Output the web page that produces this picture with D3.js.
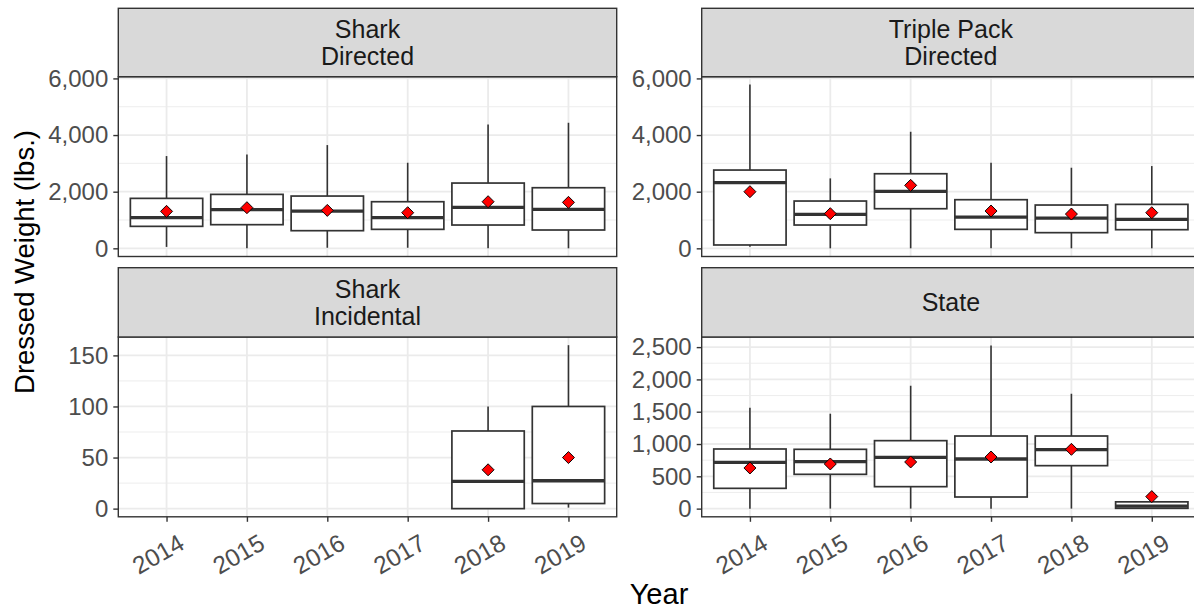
<!DOCTYPE html>
<html><head><meta charset="utf-8">
<script src="https://cdn.jsdelivr.net/npm/d3@7"></script>
<style>
body{margin:0;background:#fff;}
text{font-family:"Liberation Sans", Arial, Helvetica, sans-serif;}
</style>
</head><body>
<svg id="chart" width="1194" height="610"></svg>
<script>
// ---------- data ----------
const years = ["2014","2015","2016","2017","2018","2019"];
const panelTitles = [["Shark","Directed"],["Triple Pack","Directed"],["Shark","Incidental"],["State"]];

// Shark Directed
const sdLow  = [50, 0, 20, 20, 0, 0];
const sdQ1   = [776, 835, 623, 670, 823, 647];
const sdMed  = [1082, 1364, 1317, 1082, 1446, 1376];
const sdQ3   = [1764, 1905, 1846, 1646, 2305, 2140];
const sdHigh = [3258, 3316, 3646, 3022, 4375, 4434];
const sdMean = [1305, 1435, 1340, 1258, 1646, 1623];

// Triple Pack Directed
const tpLow  = [60, 0, 0, 0, 0, 0];
const tpQ1   = [118, 823, 1399, 670, 553, 658];
const tpMed  = [2317, 1200, 2011, 1105, 1070, 1023];
const tpQ3   = [2764, 1670, 2634, 1717, 1529, 1552];
const tpHigh = [5786, 2470, 4116, 3022, 2846, 2905];
const tpMean = [2000, 1223, 2223, 1317, 1211, 1258];

// Shark Incidental (only 2018, 2019)
const siLow  = [null, null, null, null, 0, 1];
const siQ1   = [null, null, null, null, 0, 5];
const siMed  = [null, null, null, null, 26.6, 27.3];
const siQ3   = [null, null, null, null, 76, 100];
const siHigh = [null, null, null, null, 100, 160];
const siMean = [null, null, null, null, 38, 50];

// State
const stLow  = [0, 0, 0, 0, 0, 0];
const stQ1   = [314, 531, 340, 180, 665, 5];
const stMed  = [717, 727, 794, 768, 912, 40];
const stQ3   = [923, 918, 1052, 1124, 1124, 105];
const stHigh = [1562, 1469, 1902, 2526, 1778, 110];
const stMean = [629, 691, 722, 799, 918, 186];

// y data ranges (before 5% expansion) and breaks
const yRanges = [[0, 5772], [0, 5772], [0, 160], [0, 2530]];
const yMajor = [[0,2000,4000,6000],[0,2000,4000,6000],[0,50,100,150],[0,500,1000,1500,2000,2500]];
const yMinor = [[1000,3000,5000],[1000,3000,5000],[25,75,125],[250,750,1250,1750,2250]];

const series = [
  [sdLow, sdQ1, sdMed, sdQ3, sdHigh, sdMean],
  [tpLow, tpQ1, tpMed, tpQ3, tpHigh, tpMean],
  [siLow, siQ1, siMed, siQ3, siHigh, siMean],
  [stLow, stQ1, stMed, stQ3, stHigh, stMean]
];

// ---------- layout ----------
const svg = d3.select("#chart");
svg.append("rect").attr("width",1194).attr("height",610).attr("fill","#fff");
const colX = [[118.3, 616.7], [701.7, 1200]];
const stripY = [[8.3, 76.7], [267.7, 337]];
const panelY = [[76.7, 256.5], [337, 516.8]];
const fmt = d3.format(",");

series.forEach((s, pi) => {
  const r = Math.floor(pi / 2), c = pi % 2;
  const [x0, x1] = colX[c];
  const [py0, py1] = panelY[r];
  const [sy0, sy1] = stripY[r];
  const [lo, hi] = yRanges[pi];
  const ex = 0.05 * (hi - lo);
  const y = d3.scaleLinear().domain([lo - ex, hi + ex]).range([py1, py0]);
  const x = d3.scalePoint().domain(years).range([x0, x1]).padding(0.6);
  const bw = x.step() * 0.9;
  const g = svg.append("g");

  g.append("rect").attr("x", x0).attr("y", py0).attr("width", x1 - x0).attr("height", py1 - py0).attr("fill", "#fff");
  g.selectAll(".ymin").data(yMinor[pi]).join("line")
    .attr("x1", x0).attr("x2", x1).attr("y1", d => y(d)).attr("y2", d => y(d))
    .attr("stroke", "#EBEBEB").attr("stroke-width", 0.9);
  g.selectAll(".ymaj").data(yMajor[pi]).join("line")
    .attr("x1", x0).attr("x2", x1).attr("y1", d => y(d)).attr("y2", d => y(d))
    .attr("stroke", "#EBEBEB").attr("stroke-width", 1.8);
  g.selectAll(".xmaj").data(years).join("line")
    .attr("x1", d => x(d)).attr("x2", d => x(d)).attr("y1", py0).attr("y2", py1)
    .attr("stroke", "#EBEBEB").attr("stroke-width", 1.8);

  const [sLow, sQ1, sMed, sQ3, sHigh, sMean] = s;
  const idx = years.map((d, i) => i).filter(i => sMed[i] !== null);

  idx.forEach(i => {
    const cx = x(years[i]);
    g.append("line").attr("x1", cx).attr("x2", cx).attr("y1", y(sQ3[i])).attr("y2", y(sHigh[i]))
      .attr("stroke", "#333").attr("stroke-width", 1.6);
    g.append("line").attr("x1", cx).attr("x2", cx).attr("y1", y(sQ1[i])).attr("y2", y(sLow[i]))
      .attr("stroke", "#333").attr("stroke-width", 1.6);
    g.append("rect").attr("x", cx - bw / 2).attr("width", bw)
      .attr("y", y(sQ3[i])).attr("height", Math.max(0, y(sQ1[i]) - y(sQ3[i])))
      .attr("fill", "#fff").attr("stroke", "#333").attr("stroke-width", 1.7);
    g.append("line").attr("x1", cx - bw / 2).attr("x2", cx + bw / 2).attr("y1", y(sMed[i])).attr("y2", y(sMed[i]))
      .attr("stroke", "#333").attr("stroke-width", 3.3);
  });
  const sym = d3.symbol().type(d3.symbolSquare).size(72);
  idx.forEach(i => {
    g.append("path").attr("d", sym())
      .attr("transform", `translate(${x(years[i])},${y(sMean[i])}) rotate(45)`)
      .attr("fill", "#FF0000").attr("stroke", "#000").attr("stroke-width", 0.9);
  });

  g.append("rect").attr("x", x0).attr("y", py0).attr("width", x1 - x0).attr("height", py1 - py0)
    .attr("fill", "none").attr("stroke", "#333").attr("stroke-width", 1.4);

  g.append("rect").attr("x", x0).attr("y", sy0).attr("width", x1 - x0).attr("height", sy1 - sy0)
    .attr("fill", "#D9D9D9").attr("stroke", "#333").attr("stroke-width", 1.4);
  const lines = panelTitles[pi];
  const cxs = (x0 + x1) / 2;
  const cys = (sy0 + sy1) / 2;
  const lh = 27;
  lines.forEach((t, li) => {
    g.append("text").attr("x", cxs).attr("y", cys + (li - (lines.length - 1) / 2) * lh)
      .attr("dy", "0.36em").attr("text-anchor", "middle")
      .attr("font-size", 25).attr("fill", "#1A1A1A").text(t);
  });

  const ya = g.append("g").attr("transform", `translate(${x0},0)`)
    .call(d3.axisLeft(y).tickValues(yMajor[pi]).tickFormat(fmt).tickSize(5).tickPadding(5));
  ya.select(".domain").remove();
  ya.selectAll(".tick line").attr("stroke", "#333").attr("stroke-width", 1.4);
  ya.selectAll(".tick text").attr("font-size", 24).attr("fill", "#4D4D4D")
    .attr("font-family", "Liberation Sans, Arial, sans-serif");

  if (r === 1) {
    const xa = g.append("g").attr("transform", `translate(0,${py1})`)
      .call(d3.axisBottom(x).tickSize(5).tickSizeOuter(0));
    xa.select(".domain").remove();
    xa.selectAll(".tick line").attr("stroke", "#333").attr("stroke-width", 1.4);
    xa.selectAll(".tick text").attr("font-size", 24.5).attr("fill", "#4D4D4D")
      .attr("font-family", "Liberation Sans, Arial, sans-serif")
      .attr("y", 0).attr("dy", "0.36em").attr("text-anchor", "middle")
      .attr("transform", "translate(-9,37) rotate(-30)");
  }
});

svg.append("text").attr("x", 659).attr("y", 604).attr("text-anchor", "middle")
  .attr("font-size", 29).attr("fill", "#000").text("Year");
svg.append("text").attr("transform", "translate(34,262) rotate(-90)").attr("text-anchor", "middle")
  .attr("font-size", 27.5).attr("fill", "#000").text("Dressed Weight (lbs.)");
</script>
</body></html>
